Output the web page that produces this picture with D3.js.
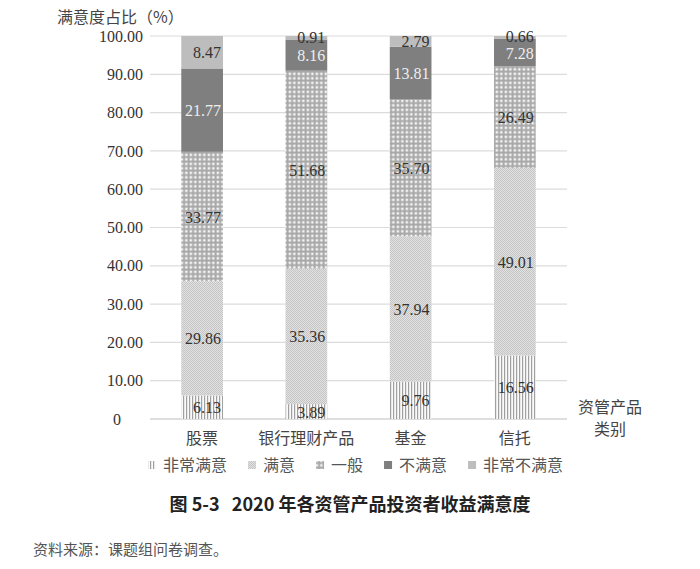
<!DOCTYPE html>
<html>
<head>
<meta charset="utf-8">
<script src="https://cdn.jsdelivr.net/npm/d3@7"></script>
<style>
  body { margin: 0; background: #fff; }
  svg { display: block; }
</style>
</head>
<body>
<svg id="chart" width="700" height="569"></svg>
<script>
// categorias y series
var categorias = ['股票', '银行理财产品', '基金', '信托'];
var series = ['非常满意', '满意', '一般', '不满意', '非常不满意'];
var feichangManyi = [6.13, 3.89, 9.76, 16.56];
var manyi = [29.86, 35.36, 37.94, 49.01];
var yiban = [33.77, 51.68, 35.70, 26.49];
var buManyi = [21.77, 8.16, 13.81, 7.28];
var feichangBuManyi = [8.47, 0.91, 2.79, 0.66];
var yTicks = [0, 10, 20, 30, 40, 50, 60, 70, 80, 90, 100];

var valores = [feichangManyi, manyi, yiban, buManyi, feichangBuManyi];

var svg = d3.select('#chart');
var sans = '"Noto Sans CJK SC", "Noto Sans", sans-serif';
var serif = '"Liberation Serif", "DejaVu Serif", serif';

// patrones
var defs = svg.append('defs');
var p1 = defs.append('pattern').attr('id', 'pat0').attr('patternUnits', 'userSpaceOnUse')
  .attr('width', 3).attr('height', 3);
p1.append('rect').attr('width', 3).attr('height', 3).attr('fill', '#fafafa');
p1.append('rect').attr('width', 1.2).attr('height', 3).attr('fill', '#a0a0a0');

var p2 = defs.append('pattern').attr('id', 'pat1').attr('patternUnits', 'userSpaceOnUse')
  .attr('width', 2).attr('height', 2);
p2.append('rect').attr('width', 2).attr('height', 2).attr('fill', '#e2e2e2');
p2.append('rect').attr('width', 1).attr('height', 1).attr('fill', '#c4c4c4');
p2.append('rect').attr('x', 1).attr('y', 1).attr('width', 1).attr('height', 1).attr('fill', '#c4c4c4');

var p3 = defs.append('pattern').attr('id', 'pat2').attr('patternUnits', 'userSpaceOnUse')
  .attr('width', 4.5).attr('height', 4.5);
p3.append('rect').attr('width', 4.5).attr('height', 4.5).attr('fill', '#a8a8a8');
p3.append('rect').attr('x', 0.6).attr('y', 0.6).attr('width', 2.5).attr('height', 2.5).attr('fill', '#f4f4f4');

var fills = ['url(#pat0)', 'url(#pat1)', 'url(#pat2)', '#7f7f7f', '#bdbdbd'];
var labelColors = ['#333', '#333', '#333', '#eeeeee', '#333'];

var x = d3.scaleBand().domain(categorias).range([150, 567]).paddingInner(0.6).paddingOuter(0.3);
var y = d3.scaleLinear().domain([0, 100]).range([419, 36]);

// lineas de la cuadricula
svg.append('g').selectAll('line')
  .data(yTicks)
  .enter().append('line')
  .attr('x1', 150).attr('x2', 567)
  .attr('y1', function (d) { return y(d); })
  .attr('y2', function (d) { return y(d); })
  .attr('stroke', function (d) { return d === 0 ? '#bdbdbd' : '#dcdcdc'; })
  .attr('stroke-width', 1.2);

// eje y
svg.append('g').selectAll('text')
  .data(yTicks)
  .enter().append('text')
  .attr('x', function (d) { return d === 0 ? 117 : 143; })
  .attr('y', function (d) { return y(d); })
  .attr('dy', '0.35em')
  .attr('text-anchor', function (d) { return d === 0 ? 'middle' : 'end'; })
  .attr('font-family', serif)
  .attr('font-size', 16)
  .attr('fill', '#333')
  .text(function (d) { return d === 0 ? '0' : d.toFixed(2); });

svg.append('text')
  .attr('x', 57).attr('y', 23)
  .attr('font-family', sans).attr('font-size', 16).attr('fill', '#444')
  .text('满意度占比（%）');

// barras apiladas
var tabla = categorias.map(function (c, i) {
  var fila = { cat: c };
  series.forEach(function (s, j) { fila[s] = valores[j][i]; });
  return fila;
});
var stack = d3.stack().keys(series)(tabla);

var capas = svg.append('g').selectAll('g')
  .data(stack)
  .enter().append('g');

capas.selectAll('rect')
  .data(function (d) { return d.map(function (p) { return { k: d.index, p: p }; }); })
  .enter().append('rect')
  .attr('x', function (d) { return x(d.p.data.cat); })
  .attr('y', function (d) { return y(d.p[1]); })
  .attr('width', x.bandwidth())
  .attr('height', function (d) { return y(d.p[0]) - y(d.p[1]); })
  .attr('fill', function (d) { return fills[d.k]; });

capas.selectAll('text')
  .data(function (d) { return d.map(function (p) { return { k: d.index, p: p }; }); })
  .enter().append('text')
  .attr('x', function (d) { return x(d.p.data.cat) + x.bandwidth() - 2; })
  .attr('y', function (d) { return y((d.p[0] + d.p[1]) / 2); })
  .attr('dy', function (d) { return (d.p[1] - d.p[0]) < 1 ? '0.3em' : '0.38em'; })
  .attr('text-anchor', 'end')
  .attr('font-family', serif)
  .attr('font-size', 16)
  .attr('fill', function (d) { return labelColors[d.k]; })
  .text(function (d) { return (d.p[1] - d.p[0]).toFixed(2); });

// eje x
svg.append('g').selectAll('text')
  .data(categorias)
  .enter().append('text')
  .attr('x', function (d) { return x(d) + x.bandwidth() / 2; })
  .attr('y', 444)
  .attr('text-anchor', 'middle')
  .attr('font-family', sans).attr('font-size', 16).attr('fill', '#444')
  .text(function (d) { return d; });

svg.append('text').attr('x', 610).attr('y', 413).attr('text-anchor', 'middle')
  .attr('font-family', sans).attr('font-size', 16).attr('fill', '#444').text('资管产品');
svg.append('text').attr('x', 610).attr('y', 435).attr('text-anchor', 'middle')
  .attr('font-family', sans).attr('font-size', 16).attr('fill', '#444').text('类别');

// leyenda
var leyenda = svg.append('g');
var lx = 148;
series.forEach(function (s, i) {
  leyenda.append('rect')
    .attr('x', lx).attr('y', 461).attr('width', 8).attr('height', 8)
    .attr('fill', fills[i]);
  var t = leyenda.append('text')
    .attr('x', lx + 15).attr('y', 465).attr('dy', '0.35em')
    .attr('font-family', sans).attr('font-size', 16).attr('fill', '#555')
    .text(s);
  lx = lx + 15 + t.node().getComputedTextLength() + 21;
});

// titulo y fuente
svg.append('text')
  .attr('x', 350).attr('y', 505).attr('dy', '0.35em').attr('text-anchor', 'middle')
  .attr('font-family', sans).attr('font-size', 18).attr('font-weight', 'bold').attr('fill', '#222')
  .text('图 5-3\u00a0\u00a0\u00a02020 年各资管产品投资者收益满意度');

svg.append('text')
  .attr('x', 33).attr('y', 550).attr('dy', '0.35em')
  .attr('font-family', sans).attr('font-size', 15).attr('fill', '#555')
  .text('资料来源：课题组问卷调查。');
</script>
</body>
</html>
